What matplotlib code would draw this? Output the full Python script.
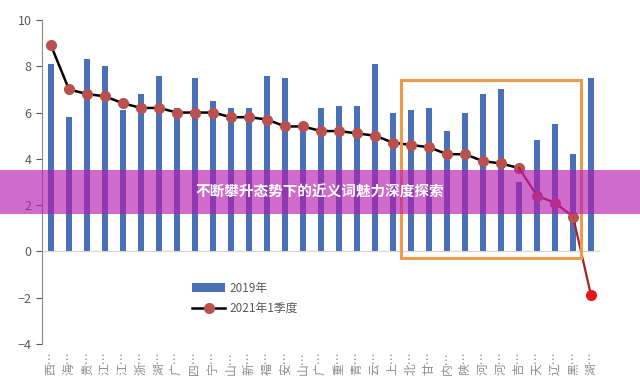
"""Recreation: 2019 vs 2021 Q1 growth by province, with highlight band."""

import matplotlib

matplotlib.use("Agg")
import matplotlib.pyplot as plt
from matplotlib.patches import Rectangle

plt.rcParams["font.family"] = ["Noto Sans CJK SC", "DejaVu Sans"]

provinces = [
    "西…", "海…", "贵…", "江…", "江…", "浙…", "湖…", "广…", "四…", "宁…",
    "山…", "新…", "福…", "安…", "山…", "广…", "重…", "青…", "云…", "上…",
    "北…", "甘…", "内…", "陕…", "河…", "河…", "吉…", "天…", "辽…", "黑…",
    "湖…",
]
growth_2019 = [
    8.1, 5.8, 8.3, 8.0, 6.1, 6.8, 7.6, 6.2, 7.5, 6.5,
    6.2, 6.2, 7.6, 7.5, 5.5, 6.2, 6.3, 6.3, 8.1, 6.0,
    6.1, 6.2, 5.2, 6.0, 6.8, 7.0, 3.0, 4.8, 5.5, 4.2,
    7.5,
]
growth_2021q1 = [
    8.9, 7.0, 6.8, 6.7, 6.4, 6.2, 6.2, 6.0, 6.0, 6.0,
    5.8, 5.8, 5.7, 5.4, 5.4, 5.2, 5.2, 5.1, 5.0, 4.7,
    4.6, 4.5, 4.2, 4.2, 3.9, 3.8, 3.6, 2.4, 2.1, 1.5,
    -1.9,
]
series_names = ["2019年", "2021年1季度"]
title = "不断攀升态势下的近义词魅力深度探索"

BLUE = "#4a70b8"
MARKER = "#b9524e"
GREY = "#595959"

fig = plt.figure(figsize=(6.4, 3.85), dpi=100)
ax = fig.add_axes([0.0656, 0.1065, 0.872, 0.8416])

x = list(range(len(provinces)))
bars = ax.bar(x, growth_2019, width=0.3, color=BLUE, zorder=2)

# black line for most provinces, dark red tail for the weakest ones
split = 26
line, = ax.plot(x[: split + 1], growth_2021q1[: split + 1], color="black",
                linewidth=1.8, marker="o", markersize=7, markerfacecolor=MARKER,
                markeredgecolor=MARKER, zorder=3)
ax.plot(x[split:], growth_2021q1[split:], color="#a82028", linewidth=1.6, zorder=3)
ax.plot(x[split + 1:-1], growth_2021q1[split + 1:-1], linestyle="none", marker="o",
        markersize=7, color=MARKER, zorder=4)
ax.plot(x[-1:], growth_2021q1[-1:], linestyle="none", marker="o", markersize=7,
        color="#e8141c", zorder=4)

ax.axhline(0, color="#d9d9d9", linewidth=1, zorder=1)

# orange highlight box
ax.add_patch(Rectangle((19.45, -0.3), 10.0, 7.7, fill=False, edgecolor="#ed9b4a",
                       linewidth=2.2, zorder=5))

ax.set_xlim(-0.5, 30.5)
ax.set_ylim(-4, 10)
ax.set_yticks(range(-4, 11, 2))
ax.set_xticks(x)
ax.set_xticklabels(provinces, rotation=90, fontsize=8.5, color="#8c8c8c")
ax.tick_params(axis="x", length=0, pad=5)
ax.tick_params(axis="y", length=4, color=GREY, labelcolor=GREY, labelsize=9)
for side in ("top", "right", "bottom"):
    ax.spines[side].set_visible(False)
ax.spines["left"].set_color("#8a8a8a")

ax.legend([bars, line], series_names, loc="upper left",
          bbox_to_anchor=(0.25, 0.225), frameon=False, fontsize=8.5,
          labelcolor=GREY, handlelength=2.8, handletextpad=0.4, labelspacing=0.6)

# magenta banner with title across the middle
fig.patches.append(Rectangle((0, 1 - 214 / 385), 1, 44 / 385,
                             transform=fig.transFigure, facecolor="#b41cb0",
                             alpha=0.65, zorder=10, edgecolor="none"))
fig.text(0.5, 1 - 192 / 385, title, ha="center", va="center", color="white",
         fontsize=10.5, fontweight="bold", zorder=11)

fig.savefig("out.png", dpi=100)
